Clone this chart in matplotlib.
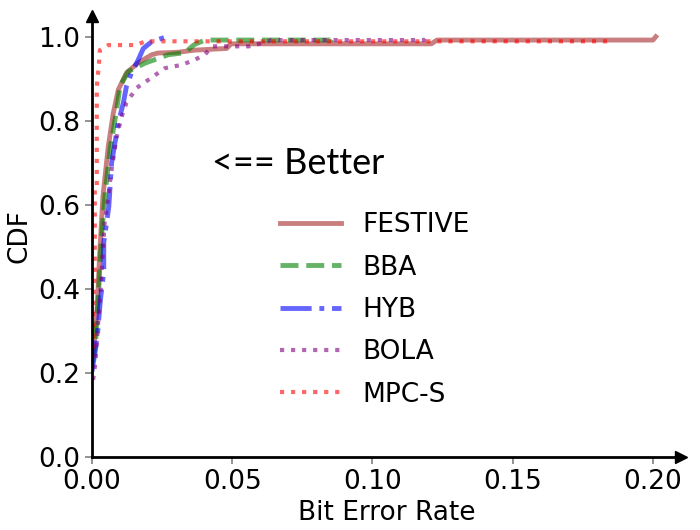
import matplotlib
matplotlib.use("Agg")
import matplotlib.pyplot as plt

# ---- data (x = bit error rate, y = CDF) ----
festive_x = [0.0, 0.0007, 0.0019, 0.0027, 0.0039, 0.0058, 0.0076, 0.0094, 0.0123, 0.0165,
             0.0213, 0.0235, 0.0307, 0.0367, 0.048, 0.0496, 0.121, 0.123, 0.200, 0.201]
festive_y = [0.24, 0.26, 0.36, 0.477, 0.62, 0.738, 0.818, 0.874, 0.914, 0.938,
             0.957, 0.961, 0.963, 0.968, 0.972, 0.983, 0.983, 0.992, 0.992, 1.0]

bba_x = [0.0, 0.0012, 0.0024, 0.0033, 0.0046, 0.0064, 0.0088, 0.010, 0.0129, 0.0189,
         0.0272, 0.0332, 0.0355, 0.0367, 0.0403, 0.0852, 0.0856]
bba_y = [0.22, 0.262, 0.397, 0.516, 0.62, 0.73, 0.826, 0.882, 0.917, 0.937,
         0.957, 0.962, 0.976, 0.982, 0.992, 0.992, 1.0]

hyb_x = [0.0, 0.0012, 0.0021, 0.003, 0.0042, 0.0042, 0.006, 0.007, 0.0094, 0.0112,
         0.0123, 0.0141, 0.0165, 0.0183, 0.0213, 0.0266]
hyb_y = [0.203, 0.254, 0.302, 0.373, 0.44, 0.51, 0.595, 0.70, 0.795, 0.843,
         0.882, 0.914, 0.945, 0.972, 0.988, 1.0]

bola_x = [0.0004, 0.0012, 0.0021, 0.0031, 0.0036, 0.0045, 0.0058, 0.007, 0.0088, 0.0106,
          0.0123, 0.0159, 0.0207, 0.026, 0.032, 0.0367, 0.0403, 0.043, 0.056, 0.060,
          0.064, 0.1185, 0.1195]
bola_y = [0.183, 0.223, 0.31, 0.397, 0.46, 0.556, 0.62, 0.684, 0.762, 0.81,
          0.843, 0.878, 0.90, 0.925, 0.933, 0.945, 0.958, 0.977, 0.977, 0.984,
          0.992, 0.992, 1.0]

mpcs_x = [0.0, 0.0004, 0.0004, 0.001, 0.001, 0.0017, 0.0017, 0.0025, 0.0028, 0.0058,
          0.0158, 0.019, 0.186]
mpcs_y = [0.23, 0.28, 0.36, 0.45, 0.635, 0.636, 0.88, 0.937, 0.968, 0.98,
          0.98, 0.989, 0.989]

labels = ["FESTIVE", "BBA", "HYB", "BOLA", "MPC-S"]
xticks = [0.00, 0.05, 0.10, 0.15, 0.20]
yticks = [0.0, 0.2, 0.4, 0.6, 0.8, 1.0]

fig = plt.figure(figsize=(7, 5.3), dpi=100)
ax = fig.add_axes([0.1314, 0.1383, 0.8415, 0.8321])

ax.plot(festive_x, festive_y, color="brown", alpha=0.6, lw=3.5, ls="-", label=labels[0])
ax.plot(bba_x, bba_y, color="green", alpha=0.6, lw=3.5, ls="--", label=labels[1])
ax.plot(hyb_x, hyb_y, color="blue", alpha=0.6, lw=3.5, ls="-.", label=labels[2])
ax.plot(bola_x, bola_y, color="purple", alpha=0.6, lw=3, ls=":", label=labels[3])
ax.plot(mpcs_x, mpcs_y, color="red", alpha=0.6, lw=3, ls=":", label=labels[4])

ax.set_xlim(0, 0.21)
ax.set_ylim(0, 1.05)
ax.set_xticks(xticks)
ax.set_xticklabels([f"{t:.2f}" for t in xticks])
ax.set_yticks(yticks)
ax.set_yticklabels([f"{t:.1f}" for t in yticks])
ax.tick_params(axis="both", labelsize=19, color="gray", length=5, width=1.2)

for s in ["top", "right"]:
    ax.spines[s].set_visible(False)
for s in ["left", "bottom"]:
    ax.spines[s].set_linewidth(2)

ax.plot(1, 0, ">k", ms=8, transform=ax.get_yaxis_transform(), clip_on=False)
ax.plot(0, 1, "^k", ms=8, transform=ax.get_xaxis_transform(), clip_on=False)

ax.set_xlabel("Bit Error Rate", fontsize=19)
ax.set_ylabel("CDF", fontsize=19)

ax.text(298 / 700, 1 - 164 / 530, "<== Better", transform=fig.transFigure,
        fontsize=26, family=["Lato", "DejaVu Sans"], ha="center", va="center")

leg = ax.legend(loc="center", bbox_to_anchor=(375 / 700, 1 - 310 / 530),
                bbox_transform=fig.transFigure, frameon=False, fontsize=19,
                handlelength=2.3, labelspacing=0.62)

fig.savefig("out.png", dpi=100)
